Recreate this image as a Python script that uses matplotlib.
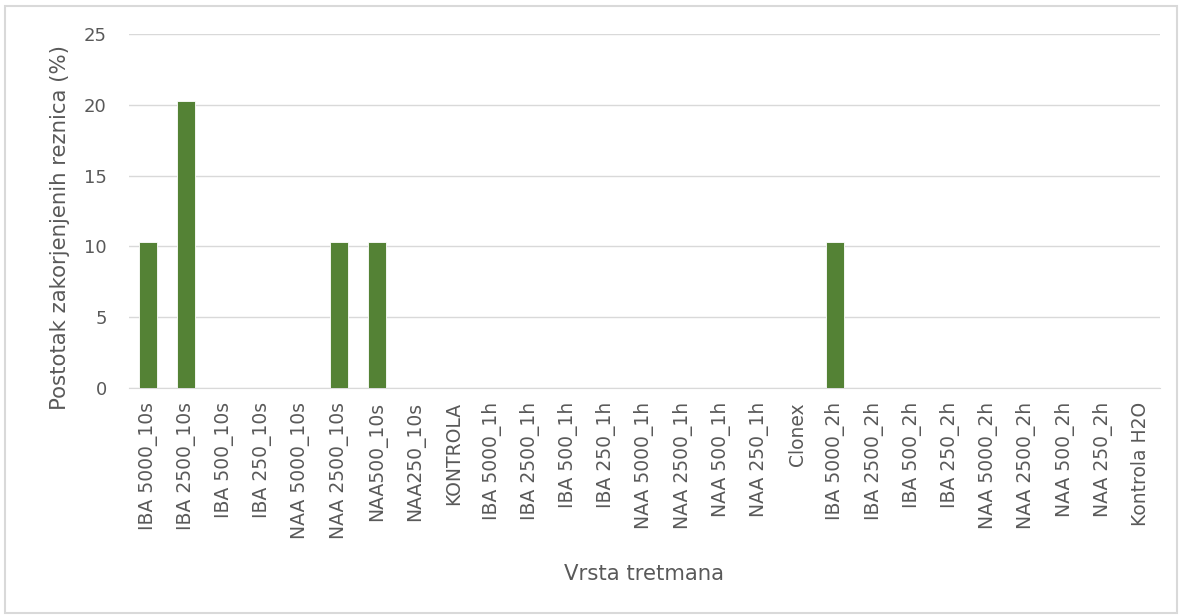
import matplotlib.pyplot as plt
from matplotlib.patches import Rectangle

plt.rcParams['font.family'] = ['DejaVu Sans']

treatments = ['IBA 5000_10s', 'IBA 2500_10s', 'IBA 500_10s', 'IBA 250_10s',
              'NAA 5000_10s', 'NAA 2500_10s', 'NAA500_10s', 'NAA250_10s',
              'KONTROLA', 'IBA 5000_1h', 'IBA 2500_1h', 'IBA 500_1h', 'IBA 250_1h',
              'NAA 5000_1h', 'NAA 2500_1h', 'NAA 500_1h', 'NAA 250_1h', 'Clonex',
              'IBA 5000_2h', 'IBA 2500_2h', 'IBA 500_2h', 'IBA 250_2h',
              'NAA 5000_2h', 'NAA 2500_2h', 'NAA 500_2h', 'NAA 250_2h', 'Kontrola H2O']
rooted_pct = [10.3, 20.3, 0, 0, 0, 10.3, 10.3, 0, 0, 0, 0, 0, 0, 0, 0, 0, 0, 0,
              10.3, 0, 0, 0, 0, 0, 0, 0, 0]

grey = '#595959'

fig = plt.figure(figsize=(11.82, 6.16), dpi=100)
fig.patches.append(Rectangle((5 / 1182, 3 / 616), 1172 / 1182, 607 / 616, transform=fig.transFigure,
                             fill=False, edgecolor='#d9d9d9', lw=1.5))
ax = fig.add_axes([129 / 1182, 1 - 388 / 616, (1160 - 129) / 1182, (388 - 34) / 616])

x = range(len(treatments))
ax.bar(x, rooted_pct, width=0.47, color='#548235', edgecolor='white', linewidth=0.6, zorder=3)

ax.set_xlim(-0.5, len(treatments) - 0.5)
ax.set_ylim(0, 25)
ax.set_yticks([0, 5, 10, 15, 20, 25])
ax.grid(axis='y', color='#d9d9d9', lw=1, zorder=0)
for s in ['top', 'right', 'left']:
    ax.spines[s].set_visible(False)
ax.spines['bottom'].set_color('#d9d9d9')
ax.tick_params(length=0, colors=grey)
ax.tick_params(axis='y', pad=16, labelsize=13)
ax.tick_params(axis='x', pad=10, labelsize=13.5)
ax.set_xticks(list(x))
ax.set_xticklabels(treatments, rotation=90)

ax.set_ylabel('Postotak zakorjenjenih reznica (%)', color=grey, fontsize=15.3)
ax.yaxis.set_label_coords(-59 / 1031, 0.452)
ax.set_xlabel('Vrsta tretmana', color=grey, fontsize=15.3, labelpad=18)

fig.savefig('out.png', dpi=100)
